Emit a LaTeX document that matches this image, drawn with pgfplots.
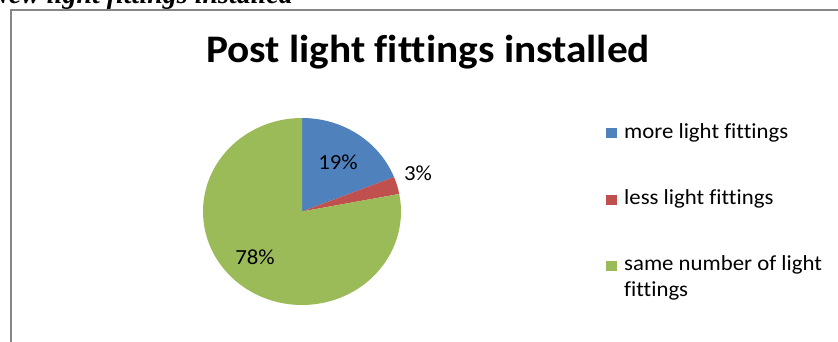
\documentclass[border=0pt]{standalone}
\usepackage{graphicx}
\usepackage{pgfplots}
\pgfplotsset{compat=1.18}
\usepackage{pgfplotstable}
\usepackage{fontspec}
\setmainfont[Ligatures={NoCommon}]{Carlito}
\newfontfamily\timesfont[Ligatures={NoCommon}]{Liberation Serif}

\definecolor{cblue}{HTML}{4F81BD}
\definecolor{cred}{HTML}{C0504D}
\definecolor{cgreen}{HTML}{9BBB59}
\definecolor{framegray}{HTML}{878787}

\pgfplotstableread{
label value
more 19
less 3
same 78
}\piedata

\newcommand{\sx}[1]{\scalebox{1.06}[1]{#1}}

\begin{document}
\begin{tikzpicture}
\begin{axis}[
  width=838pt, height=342pt, scale only axis,
  xmin=0, xmax=838, ymin=0, ymax=342,
  hide axis, clip=false,
]
% heading of the document, cut off at the top
\node[anchor=base east, inner sep=0pt, font=\timesfont\bfseries\itshape\fontsize{28}{32}\selectfont]
  at (axis cs:293,338.5) {New light fittings installed};
% chart frame
\draw[framegray, line width=1.5pt] (axis cs:11,-5) -- (axis cs:11,332) -- (axis cs:845,332);
% title
\node[anchor=base, inner sep=0pt, font=\bfseries\fontsize{39}{45}\selectfont]
  at (axis cs:428,279.3) {\sx{Post light fittings installed}};
% pie slices
\xdef\angstart{90}
\foreach \i/\col in {0/cblue,1/cred,2/cgreen}{
  \pgfplotstablegetelem{\i}{value}\of\piedata
  \pgfmathsetmacro\angend{\angstart-3.6*\pgfplotsretval}
  \pgfmathsetmacro\sxp{302+99*cos(\angstart)}
  \pgfmathsetmacro\syp{130.5+93.5*sin(\angstart)}
  \edef\temp{\noexpand\fill[\col] (axis cs:302,130.5) -- (axis cs:\sxp,\syp) arc[start angle=\angstart, end angle=\angend, x radius=99, y radius=93.5] -- cycle;}
  \temp
  \xdef\angstart{\angend}
}
% data labels
\node[inner sep=0pt, font=\fontsize{21.5}{25}\selectfont] at (axis cs:338,180) {\sx{19\%}};
\node[inner sep=0pt, font=\fontsize{21.5}{25}\selectfont] at (axis cs:418,169) {\sx{3\%}};
\node[inner sep=0pt, font=\fontsize{21.5}{25}\selectfont] at (axis cs:255,85) {\sx{78\%}};
% legend
\fill[cblue] (axis cs:606,204) rectangle (axis cs:616.5,214);
\fill[cred] (axis cs:606,137) rectangle (axis cs:616.5,147);
\fill[cgreen] (axis cs:606,70.5) rectangle (axis cs:616.5,80.5);
\node[anchor=base west, inner sep=0pt, font=\fontsize{21.5}{25}\selectfont] at (axis cs:624,203.7) {\sx{more light fittings}};
\node[anchor=base west, inner sep=0pt, font=\fontsize{21.5}{25}\selectfont] at (axis cs:624,137) {\sx{less light fittings}};
\node[anchor=base west, inner sep=0pt, font=\fontsize{21.5}{25}\selectfont] at (axis cs:624,71.3) {\sx{same number of light}};
\node[anchor=base west, inner sep=0pt, font=\fontsize{21.5}{25}\selectfont] at (axis cs:624,45.5) {\sx{fittings}};
\end{axis}
\pgfresetboundingbox
\useasboundingbox (current axis.south west) rectangle (current axis.north east);
\end{tikzpicture}
\end{document}
